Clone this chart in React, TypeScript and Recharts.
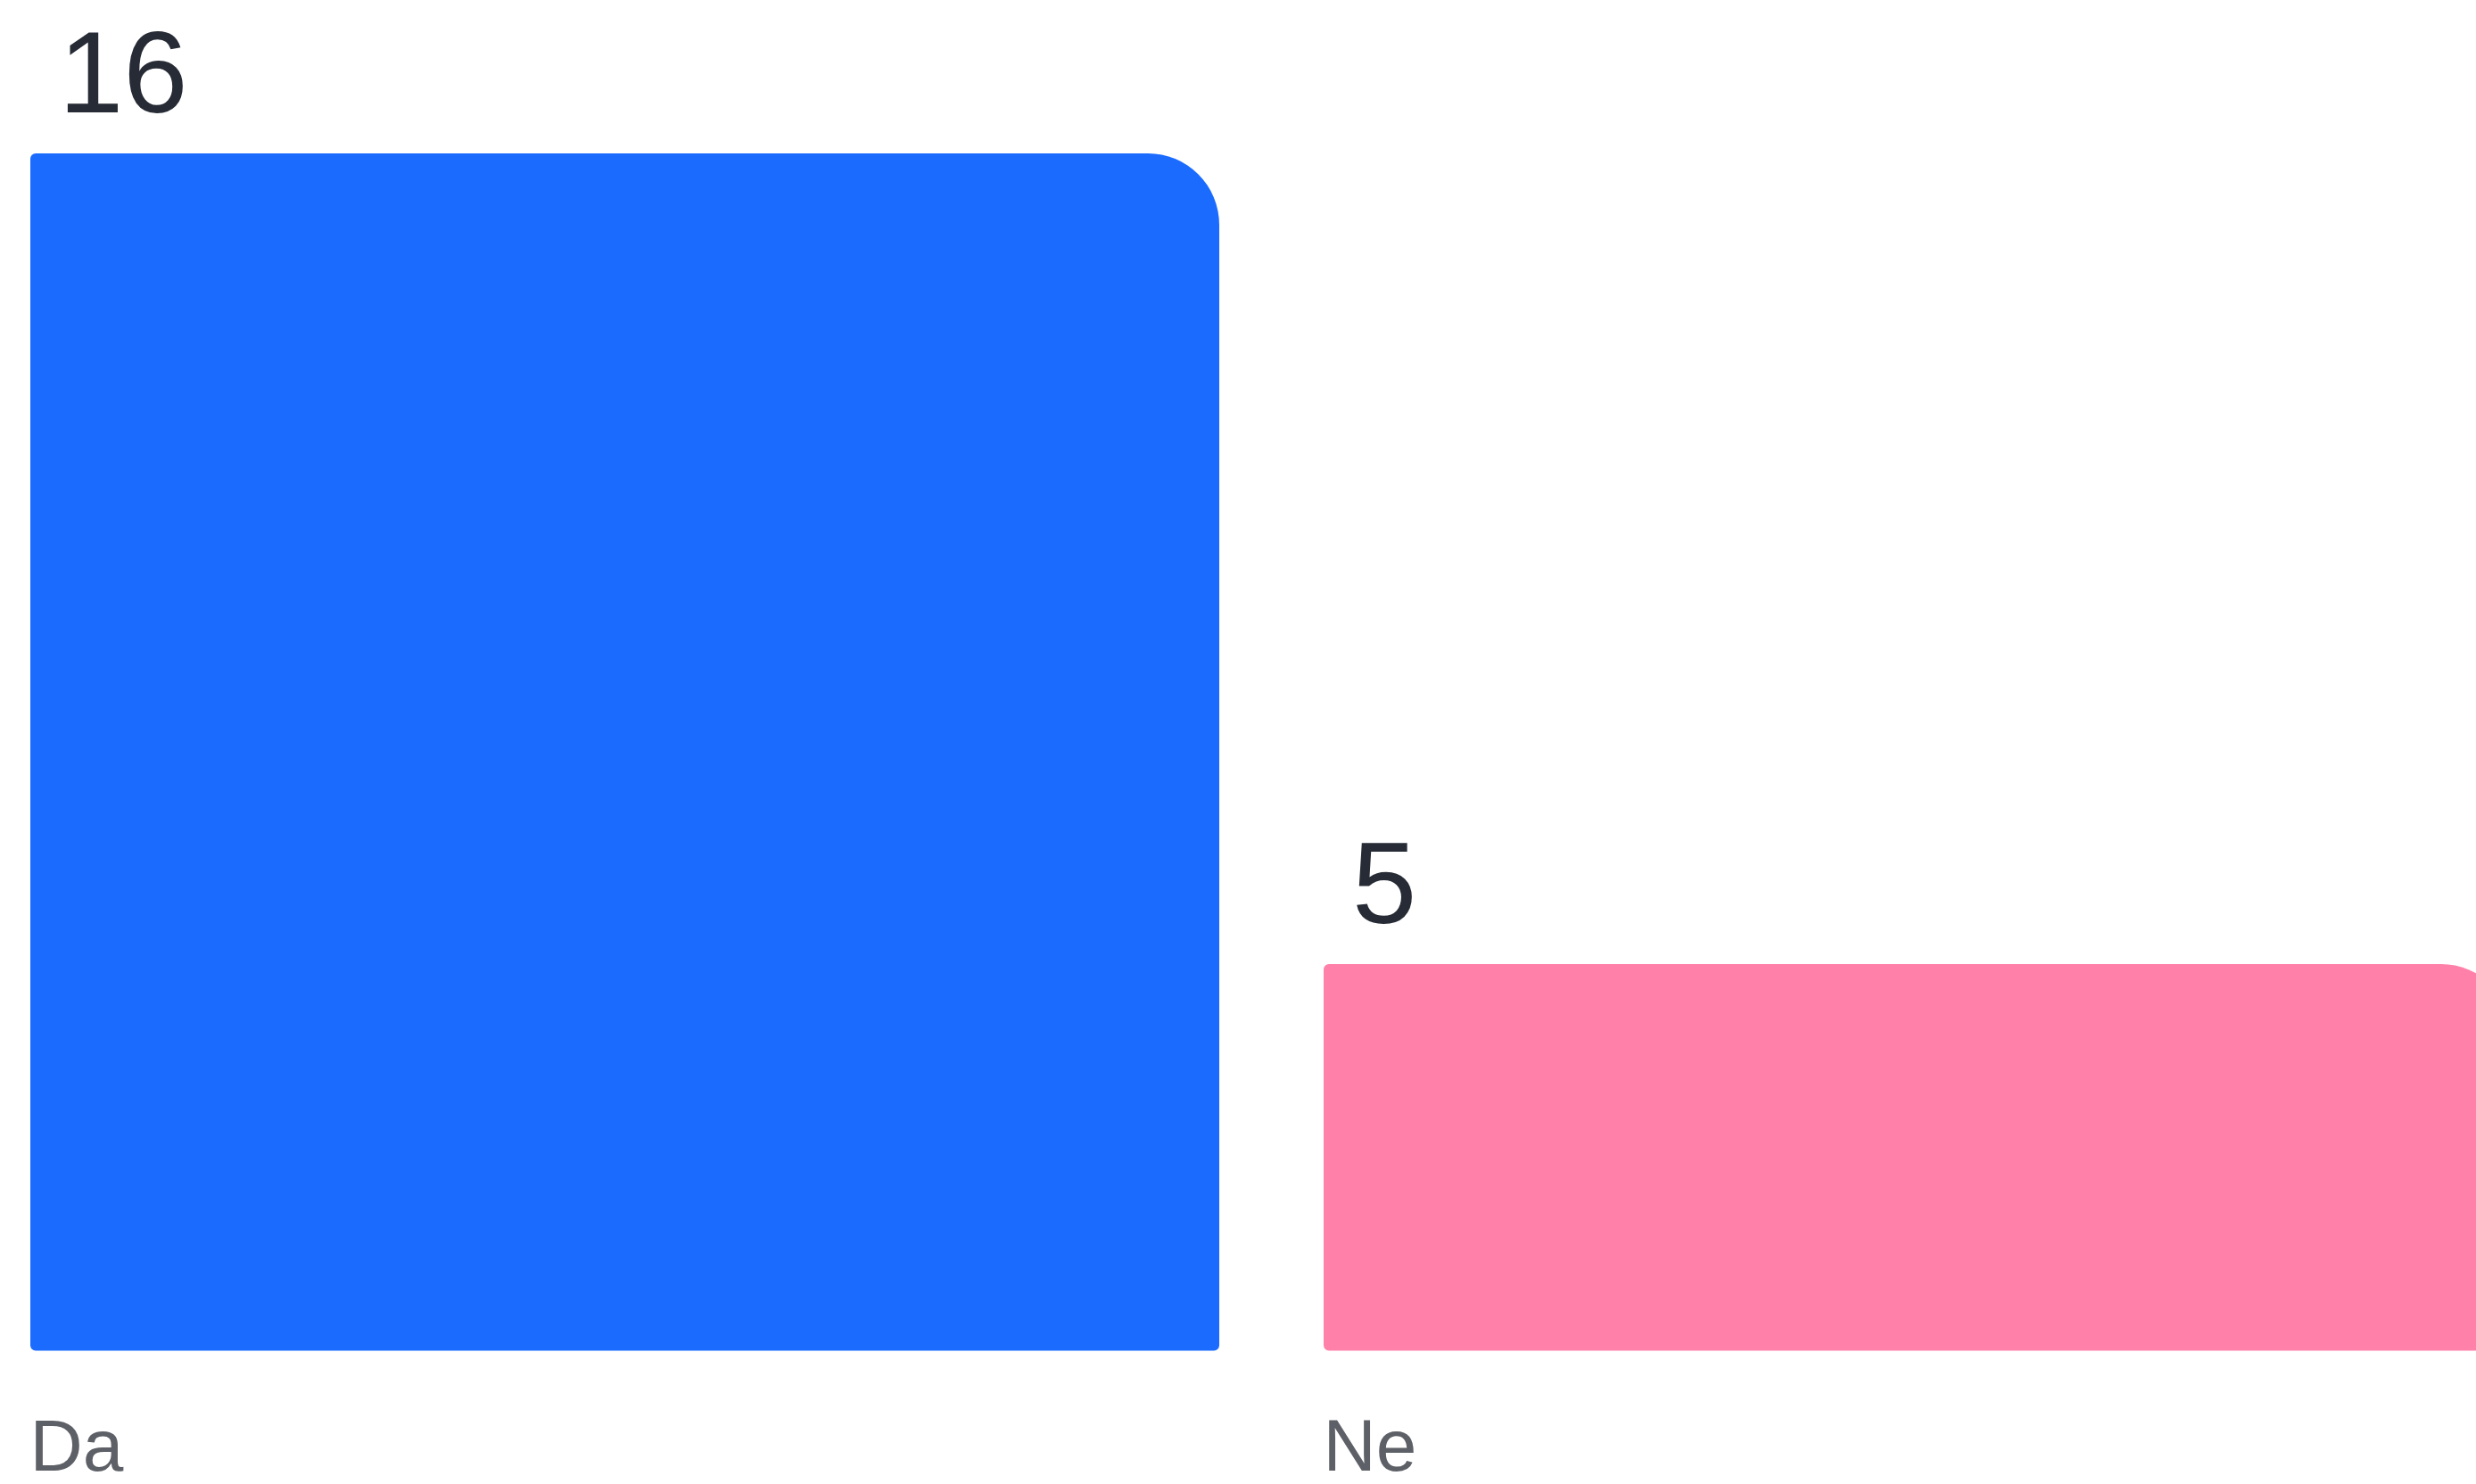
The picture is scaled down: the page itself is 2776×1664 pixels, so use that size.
import { BarChart, Bar, XAxis, YAxis, Cell, LabelList, Rectangle } from 'recharts'

const categories = ['Da', 'Ne']
const votes = [16, 5]
const barColors = ['#1b6bff', '#ff80a9']

const data = categories.map((name, i) => ({ name, value: votes[i] }))

// bars sit a little below zero in the original, so the axis starts just under 0
const Y_DOMAIN: [number, number] = [-0.245, 16]
const BAR_SIZE = 1333
const FONT = '"Liberation Sans", Arial, sans-serif'

const RoundedBar = (props: any) => {
  const { x, y, width, height, fill, background } = props
  const bottom = background ? background.y + background.height : y + height
  return (
    <Rectangle
      x={x}
      y={y}
      width={width}
      height={bottom - y}
      fill={fill}
      radius={[6, 80, 6, 6]}
    />
  )
}

const ValueLabel = (props: any) => {
  const { x, y, value } = props
  return (
    <text x={x + 32} y={y - 46} fontSize={130} fill="#262b35" fontFamily={FONT}>
      {value}
    </text>
  )
}

const CategoryTick = (props: any) => {
  const { x, y, payload } = props
  return (
    <text x={x - BAR_SIZE / 2} y={y + 134} fontSize={82} fill="#5d6066" fontFamily={FONT}>
      {payload.value}
    </text>
  )
}

export default function App() {
  return (
    <div
      style={{
        position: 'absolute',
        left: 0,
        top: 0,
        width: 2776,
        height: 1664,
        overflow: 'hidden',
        background: '#ffffff',
      }}
    >
      <div style={{ position: 'absolute', left: -25, top: 0 }}>
        <BarChart
          width={2900}
          height={1664}
          data={data}
          margin={{ top: 172, right: 0, bottom: 0, left: 0 }}
        >
          <XAxis
            dataKey="name"
            axisLine={false}
            tickLine={false}
            tickSize={0}
            tickMargin={0}
            height={149.5}
            tick={<CategoryTick />}
            interval={0}
          />
          <YAxis hide type="number" domain={Y_DOMAIN} />
          <Bar
            dataKey="value"
            barSize={BAR_SIZE}
            shape={<RoundedBar />}
            isAnimationActive={false}
          >
            {data.map((d, i) => (
              <Cell key={d.name} fill={barColors[i]} />
            ))}
            <LabelList dataKey="value" content={<ValueLabel />} />
          </Bar>
        </BarChart>
      </div>
    </div>
  )
}
